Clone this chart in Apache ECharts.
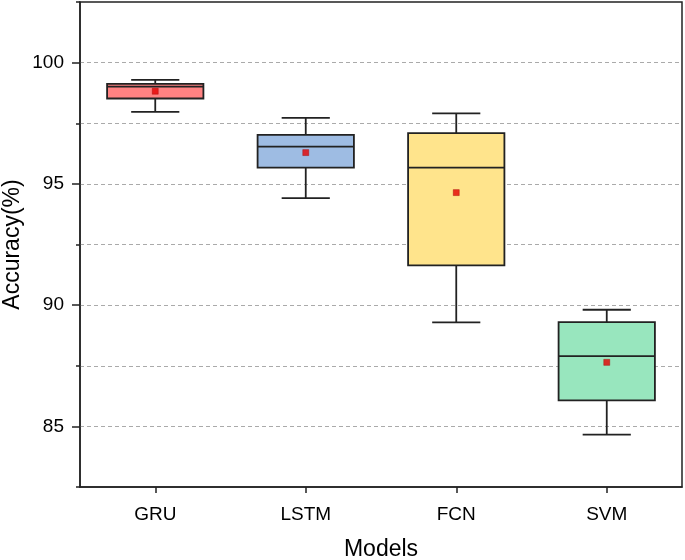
<!DOCTYPE html>
<html>
<head>
<meta charset="utf-8">
<script src="https://cdn.jsdelivr.net/npm/echarts@6/dist/echarts.min.js"></script>
<style>
html,body{margin:0;padding:0;background:#fff;}
#chart{width:685px;height:560px;}
</style>
</head>
<body>
<div id="chart"></div>
<script>
var categories = ['GRU', 'LSTM', 'FCN', 'SVM'];
var whiskerLow  = [97.97, 94.41, 89.29, 84.66];
var q1          = [98.52, 95.67, 91.64, 86.07];
var medians     = [99.01, 96.54, 95.67, 87.90];
var q3          = [99.12, 97.02, 97.09, 89.30];
var whiskerHigh = [99.29, 97.72, 97.91, 89.81];
var means       = [98.82, 96.29, 94.64, 87.64];
var majorTicks  = [85, 90, 95, 100];

var fillColors = ['#FF8282', '#9EBCE3', '#FFE48C', '#98E6BE'];

var boxData = categories.map(function (c, i) {
  return [i, whiskerLow[i], q1[i], medians[i], q3[i], whiskerHigh[i]];
});
var meanData = categories.map(function (c, i) { return [i, means[i]]; });

var lineColor = '#222';
var font = 'Liberation Sans, Arial, sans-serif';

var chart = echarts.init(document.getElementById('chart'), null, {renderer: 'canvas'});
chart.setOption({
  animation: false,
  backgroundColor: '#fff',
  grid: {left: 80, right: 3, top: 2, bottom: 73, containLabel: false, outerBoundsMode: 'none',
    show: true, borderColor: lineColor, borderWidth: 1.5, backgroundColor: 'transparent'},
  xAxis: {
    type: 'category',
    data: categories,
    boundaryGap: true,
    name: 'Models',
    nameLocation: 'middle',
    nameGap: 51,
    nameMoveOverlap: false,
    nameTextStyle: {fontSize: 23, color: '#000', fontFamily: font},
    axisLine: {show: true, lineStyle: {color: lineColor, width: 1.5}},
    axisTick: {show: true, alignWithLabel: true, length: 6, lineStyle: {color: lineColor, width: 1.5}},
    axisLabel: {fontSize: 19, color: '#000', fontFamily: font, margin: 18},
    splitLine: {show: false}
  },
  yAxis: [{
    type: 'value',
    min: 82.5, max: 102.5, interval: 2.5,
    name: 'Accuracy(%)',
    nameLocation: 'middle',
    nameGap: 56,
    nameMoveOverlap: false,
    nameTextStyle: {fontSize: 23, color: '#000', fontFamily: font},
    axisLine: {show: true, lineStyle: {color: lineColor, width: 1.5}},
    axisTick: {show: true, length: 4, lineStyle: {color: lineColor, width: 1.5}},
    axisLabel: {customValues: majorTicks, fontSize: 19, color: '#000', fontFamily: font, margin: 16},
    splitLine: {show: true, showMinLine: false, showMaxLine: false, lineStyle: {color: '#aaa', type: [4, 3], width: 1}}
  }, {
    type: 'value',
    position: 'left',
    min: 82.5, max: 102.5, interval: 2.5,
    axisLine: {show: false},
    axisTick: {show: true, customValues: majorTicks, length: 8, lineStyle: {color: lineColor, width: 1.5}},
    axisLabel: {show: false},
    splitLine: {show: false}
  }],
  series: [{
    type: 'custom',
    data: boxData,
    encode: {x: 0, y: [1, 2, 3, 4, 5]},
    renderItem: function (params, api) {
      var i = api.value(0);
      var band = api.size([1, 0])[0];
      var bw = band * 0.64 / 2, cw = band * 0.32 / 2;
      var pLow = api.coord([i, api.value(1)]);
      var pQ1 = api.coord([i, api.value(2)]);
      var pMed = api.coord([i, api.value(3)]);
      var pQ3 = api.coord([i, api.value(4)]);
      var pHigh = api.coord([i, api.value(5)]);
      var x = pMed[0];
      var ls = {stroke: lineColor, lineWidth: 1.8};
      return {
        type: 'group',
        children: [
          {type: 'line', shape: {x1: x, y1: pLow[1], x2: x, y2: pQ1[1]}, style: ls},
          {type: 'line', shape: {x1: x, y1: pQ3[1], x2: x, y2: pHigh[1]}, style: ls},
          {type: 'line', shape: {x1: x - cw, y1: pLow[1], x2: x + cw, y2: pLow[1]}, style: ls},
          {type: 'line', shape: {x1: x - cw, y1: pHigh[1], x2: x + cw, y2: pHigh[1]}, style: ls},
          {type: 'rect', shape: {x: x - bw, y: pQ3[1], width: bw * 2, height: pQ1[1] - pQ3[1]},
            style: {fill: fillColors[params.dataIndex], stroke: lineColor, lineWidth: 1.8}},
          {type: 'line', shape: {x1: x - bw, y1: pMed[1], x2: x + bw, y2: pMed[1]}, style: ls}
        ]
      };
    },
    z: 3
  }, {
    type: 'scatter',
    data: meanData,
    symbol: 'rect',
    symbolSize: 6,
    itemStyle: {color: '#E50000', borderColor: '#A00000', borderWidth: 0.5},
    z: 5
  }]
});
</script>
</body>
</html>
